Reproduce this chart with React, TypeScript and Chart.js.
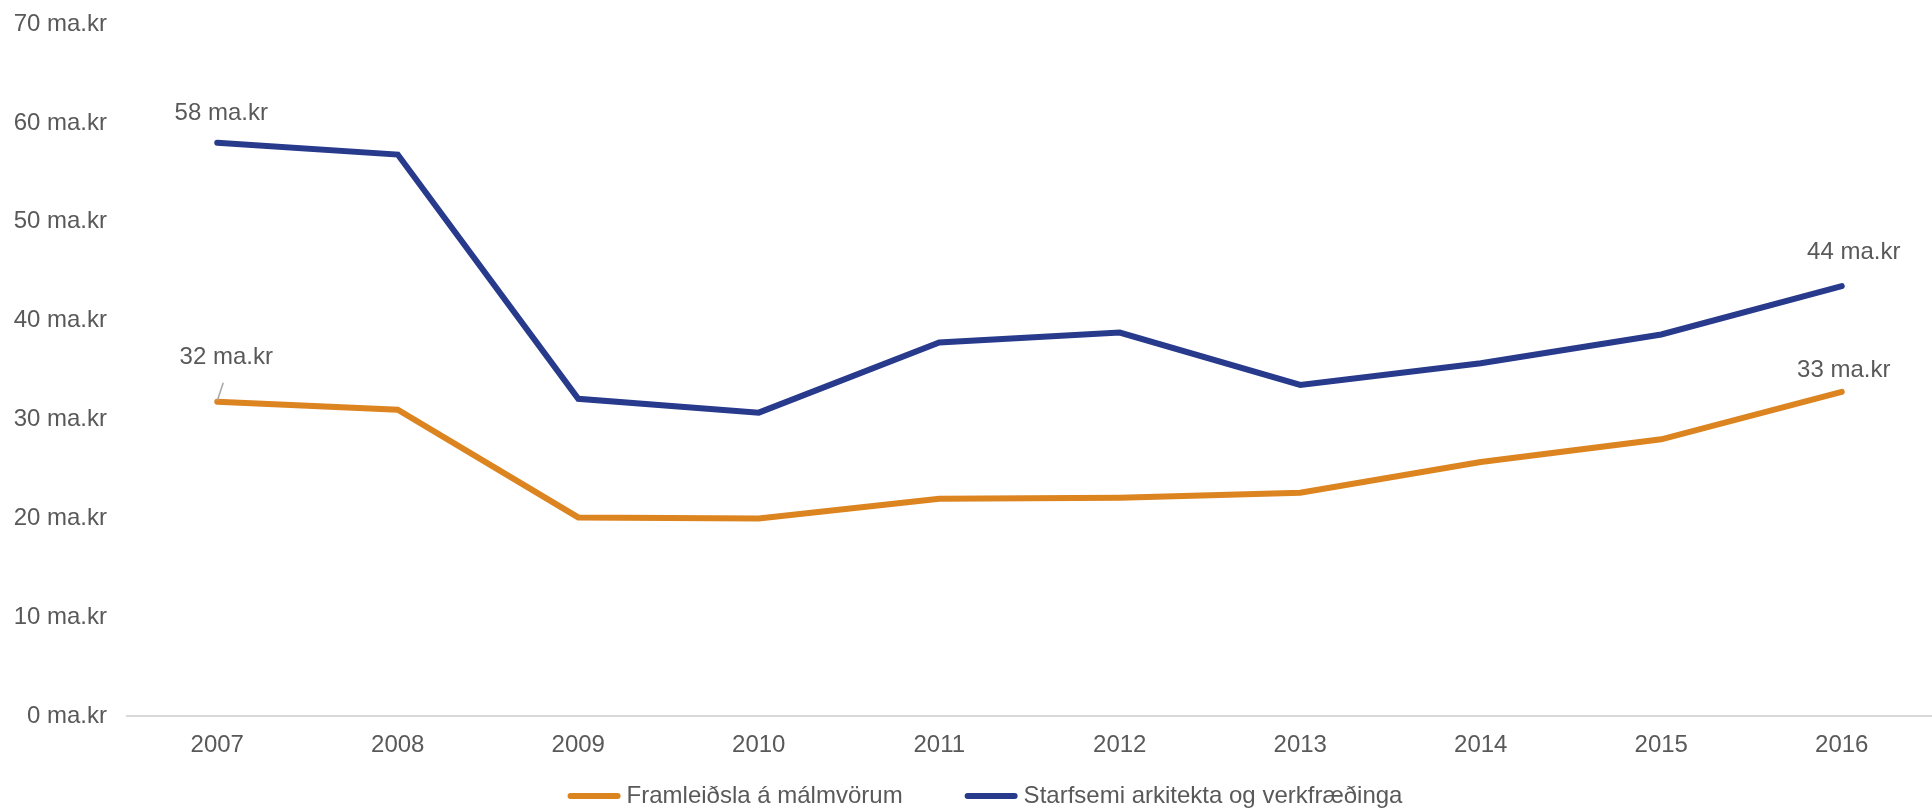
import React, { useEffect, useRef } from "react";
import { Chart, registerables } from "chart.js";

Chart.register(...registerables);

const years = ["2007", "2008", "2009", "2010", "2011", "2012", "2013", "2014", "2015", "2016"];
const framleidsla = [31.8, 31.0, 20.1, 20.0, 22.0, 22.1, 22.6, 25.7, 28.0, 32.8];
const starfsemi = [58.0, 56.8, 32.1, 30.7, 37.8, 38.8, 33.5, 35.7, 38.6, 43.5];
const seriesNames = ["Framleiðsla á málmvörum", "Starfsemi arkitekta og verkfræðinga"];
const seriesColors = ["#DC8420", "#283A8C"];
const unit = "ma.kr";

const FONT = "'Liberation Sans', Arial, sans-serif";
const TEXT = "#595959";
const FS = 24;

const labelPlugin = {
  id: "endLabels",
  afterDatasetsDraw(chart: any) {
    const ctx = chart.ctx;
    ctx.save();
    ctx.font = `${FS}px ${FONT}`;
    ctx.fillStyle = TEXT;
    ctx.textAlign = "center";
    ctx.textBaseline = "middle";
    const specs = [
      { ds: 1, idx: 0, dx: 4, dy: -29, leader: false },
      { ds: 0, idx: 0, dx: 9, dy: -44, leader: true },
      { ds: 1, idx: years.length - 1, dx: 12, dy: -34, leader: false },
      { ds: 0, idx: years.length - 1, dx: 2, dy: -21, leader: false },
    ];
    for (const s of specs) {
      const pt = chart.getDatasetMeta(s.ds).data[s.idx];
      const v = chart.data.datasets[s.ds].data[s.idx];
      ctx.fillText(`${Math.round(v)} ${unit}`, pt.x + s.dx, pt.y + s.dy);
      if (s.leader) {
        ctx.strokeStyle = "#A6A6A6";
        ctx.lineWidth = 1.5;
        ctx.beginPath();
        ctx.moveTo(pt.x + 6, pt.y - 19);
        ctx.lineTo(pt.x, pt.y - 1);
        ctx.stroke();
      }
    }
    ctx.restore();
  },
  afterDraw(chart: any) {
    const ctx = chart.ctx;
    ctx.save();
    ctx.font = `${FS}px ${FONT}`;
    const sw = 53;
    const gap = 6;
    const itemGap = 62;
    const widths = seriesNames.map((n) => ctx.measureText(n).width);
    const total = widths.reduce((a, w) => a + sw + gap + w, 0) + itemGap * (seriesNames.length - 1);
    let x = 985 - total / 2;
    const y = 796;
    seriesNames.forEach((n, i) => {
      ctx.strokeStyle = seriesColors[i];
      ctx.lineWidth = 6;
      ctx.lineCap = "round";
      ctx.beginPath();
      ctx.moveTo(x + 3, y);
      ctx.lineTo(x + sw - 3, y);
      ctx.stroke();
      ctx.fillStyle = TEXT;
      ctx.textAlign = "left";
      ctx.textBaseline = "middle";
      ctx.fillText(n, x + sw + gap, y);
      x += sw + gap + widths[i] + itemGap;
    });
    ctx.restore();
  },
};

export default function App() {
  const ref = useRef<HTMLCanvasElement>(null);
  useEffect(() => {
    document.body.style.margin = "0";
    const chart = new Chart(ref.current as HTMLCanvasElement, {
      type: "line",
      data: {
        labels: years,
        datasets: [
          {
            label: seriesNames[0],
            data: framleidsla,
            borderColor: seriesColors[0],
            borderWidth: 6,
            pointRadius: 0,
            borderCapStyle: "round",
            borderJoinStyle: "miter",
            tension: 0,
          },
          {
            label: seriesNames[1],
            data: starfsemi,
            borderColor: seriesColors[1],
            borderWidth: 6,
            pointRadius: 0,
            borderCapStyle: "round",
            borderJoinStyle: "miter",
            tension: 0,
          },
        ],
      },
      options: {
        responsive: false,
        animation: false,
        layout: { padding: { top: 24, left: 0, right: 0, bottom: 34 } },
        plugins: { legend: { display: false }, tooltip: { enabled: false } },
        scales: {
          x: {
            offset: true,
            grid: { display: false, drawTicks: false },
            border: { display: true, color: "#D9D9D9", width: 2 },
            ticks: { padding: 15, color: TEXT, font: { family: FONT, size: FS } },
          },
          y: {
            min: 0,
            max: 70,
            grid: { display: false, drawTicks: false },
            border: { display: false },
            afterFit: (scale: any) => {
              scale.width = 127;
              scale.paddingTop = 0;
              scale.paddingBottom = 0;
            },
            ticks: {
              stepSize: 10,
              padding: 20,
              color: TEXT,
              font: { family: FONT, size: FS },
              callback: (v: any) => `${v} ${unit}`,
            },
          },
        },
      },
      plugins: [labelPlugin],
    });
    return () => chart.destroy();
  }, []);
  return (
    <div style={{ position: "absolute", left: 0, top: 0, width: 1932, height: 809 }}>
      <canvas ref={ref} width={1932} height={809} />
    </div>
  );
}
